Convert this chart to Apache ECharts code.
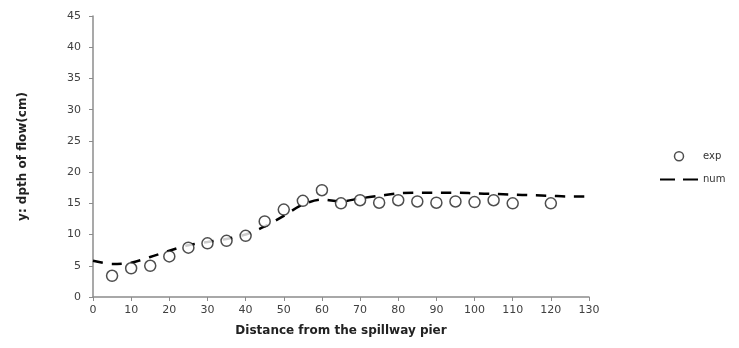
<!DOCTYPE html>
<html><head><meta charset="utf-8">
<script src="https://cdn.jsdelivr.net/npm/echarts@6/dist/echarts.min.js"></script>
<style>html,body{margin:0;padding:0;background:#fff}#c{width:739px;height:348px}</style>
</head><body><div id="c"></div>
<script>
const xTicks = [0,10,20,30,40,50,60,70,80,90,100,110,120,130];
const yTicks = [0,5,10,15,20,25,30,35,40,45];
const expX = [5,10,15,20,25,30,35,40,45,50,55,60,65,70,75,80,85,90,95,100,105,110,120];
const expY = [3.4,4.6,5.0,6.5,7.9,8.6,9.0,9.8,12.1,14.0,15.4,17.1,15.0,15.5,15.1,15.5,15.3,15.1,15.3,15.2,15.5,15.0,15.0];
const numX = [0,5,10,15,20,25,30,35,40,45,50,55,60,65,70,75,80,85,90,95,100,105,110,115,120,125,130];
const numY = [5.8,5.3,5.5,6.4,7.4,8.3,8.8,9.3,10.0,11.3,13.0,14.8,15.6,15.3,15.8,16.2,16.6,16.7,16.7,16.7,16.6,16.5,16.4,16.3,16.2,16.1,16.1];

const chart = echarts.init(document.getElementById('c'), null, {renderer:'canvas'});
const axisCol = '#8c8c8c';
const lab = {color:'#404040', fontSize:11, fontFamily:'Verdana, DejaVu Sans, sans-serif'};
chart.setOption({
  animation:false,
  grid:{left:93, right:150, top:16, bottom:51},
  xAxis:{type:'value', min:0, max:130, interval:10,
    name:'Distance from the spillway pier', nameLocation:'middle', nameGap:28,
    nameTextStyle:{fontWeight:'bold', fontSize:12, color:'#222', fontFamily:'DejaVu Sans, sans-serif'},
    axisLine:{lineStyle:{color:axisCol, width:1.5}}, axisTick:{lineStyle:{color:axisCol}, length:4},
    splitLine:{show:false}, axisLabel:Object.assign({margin:8}, lab)},
  yAxis:{type:'value', min:0, max:45, interval:5,
    name:'y: dpth of flow(cm)', nameLocation:'middle', nameGap:64, nameRotate:90,
    nameTextStyle:{fontWeight:'bold', fontSize:12, color:'#222', fontFamily:'DejaVu Sans, sans-serif'},
    axisLine:{show:true, lineStyle:{color:axisCol, width:1.5}}, axisTick:{show:true, lineStyle:{color:axisCol}, length:4},
    splitLine:{show:false}, axisLabel:Object.assign({margin:12}, lab)},
  legend:{orient:'vertical', left:655, top:146, itemGap:13, itemWidth:38, itemHeight:9,
    textStyle:{fontSize:10, color:'#333', fontFamily:'Verdana, DejaVu Sans, sans-serif'},
    data:[{name:'exp', icon:'circle', itemStyle:{color:'#fff', borderColor:'#222', borderWidth:1.5}},
          {name:'num', icon:'path://M0,0L0.01,0L0.01,0.01Z M0,9L0.01,9L0.01,8.99Z M0,3.4H15V5.6H0Z M23,3.4H38V5.6H23Z',
           itemStyle:{color:'#000', borderWidth:0}}]},
  series:[
    {name:'num', type:'line', data:numX.map((x,i)=>[x,numY[i]]), symbol:'none', smooth:0.3,
     lineStyle:{color:'#000', width:2.5, type:[10,9]}, itemStyle:{color:'#000'}, z:2},
    {name:'exp', type:'scatter', data:expX.map((x,i)=>[x,expY[i]]), symbol:'circle', symbolSize:11,
     itemStyle:{color:'#fff', borderColor:'#222', borderWidth:1.5}, z:3}
  ]
});
</script></body></html>
